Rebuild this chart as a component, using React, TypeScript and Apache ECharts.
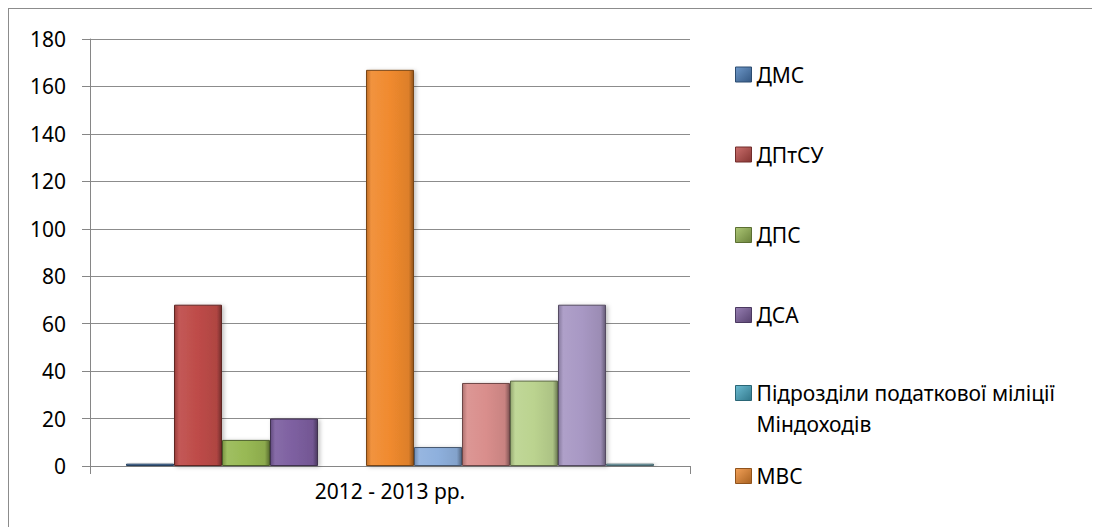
import React, { useEffect, useRef } from "react";
import * as echarts from "echarts";

const categories = ["2012 - 2013 рр."];
const seriesNames = [
  "ДМС",
  "ДПтСУ",
  "ДПС",
  "ДСА",
  "Підрозділи податкової міліції Міндоходів",
  "МВС",
  "Ряд 7",
  "Ряд 8",
  "Ряд 9",
  "Ряд 10",
  "Ряд 11",
];
const seriesValues = [1, 68, 11, 20, 0, 167, 8, 35, 36, 68, 1];
const seriesColors = [
  "#4A7EBB",
  "#BE4B48",
  "#98B954",
  "#7D5FA0",
  "#46AAC5",
  "#F08A2E",
  "#8EB0DD",
  "#D98E8C",
  "#BBD38F",
  "#A898C4",
  "#8ECBDB",
];
const legendNames = seriesNames.slice(0, 6);
const yTicks = { min: 0, max: 180, interval: 20 };

function shade(hex: string, f: number): string {
  const n = parseInt(hex.slice(1), 16);
  let r = (n >> 16) & 255, g = (n >> 8) & 255, b = n & 255;
  if (f < 0) {
    r = Math.round(r * (1 + f)); g = Math.round(g * (1 + f)); b = Math.round(b * (1 + f));
  } else {
    r = Math.round(r + (255 - r) * f); g = Math.round(g + (255 - g) * f); b = Math.round(b + (255 - b) * f);
  }
  return "rgb(" + r + "," + g + "," + b + ")";
}

const FONT = "'Noto Sans', sans-serif";
const FS = 21;

export default function App() {
  const ref = useRef<HTMLDivElement>(null);
  useEffect(() => {
    if (!ref.current) return;
    const chart = echarts.init(ref.current, undefined, { renderer: "svg" });
    const legendTops = [55, 135, 215.5, 295.5, 337.5, 456.5];
    const legends = legendNames.map((name, i) => {
      const multi = i === 4;
      const c = seriesColors[i];
      return {
        show: true,
        left: 726,
        top: legendTops[i],
        padding: 0,
        itemWidth: 16,
        itemHeight: 15,
        itemGap: 0,
        icon: "rect",
        selectedMode: false,
        formatter: multi ? () => "\nПідрозділи податкової міліції\nМіндоходів" : undefined,
        textStyle: {
          fontFamily: FONT,
          fontSize: FS,
          color: "#000",
          lineHeight: multi ? 31 : 15,
        },
        data: [
          {
            name,
            icon: "rect",
            itemStyle: {
              color: new echarts.graphic.LinearGradient(0, 0, 1, 1, [
                { offset: 0, color: shade(c, 0.2) },
                { offset: 1, color: shade(c, -0.3) },
              ]),
              borderWidth: 1,
              borderColor: shade(c, -0.4),
            },
          },
        ],
      };
    });
    chart.setOption({
      animation: false,
      backgroundColor: "#fff",
      legend: legends,
      grid: { left: 81, top: 30, width: 600, height: 427, containLabel: false },
      xAxis: {
        type: "category",
        data: categories,
        axisLine: { show: true, lineStyle: { color: "#868686", width: 1 } },
        axisTick: { show: true, length: 8, alignWithLabel: false, lineStyle: { color: "#868686" } },
        axisLabel: { fontFamily: FONT, fontSize: FS, color: "#000", margin: 14 },
      },
      yAxis: {
        type: "value",
        min: yTicks.min,
        max: yTicks.max,
        interval: yTicks.interval,
        axisLine: { show: true, lineStyle: { color: "#868686", width: 1 } },
        axisTick: { show: true, length: 8, lineStyle: { color: "#868686" } },
        axisLabel: { fontFamily: FONT, fontSize: FS, color: "#000", margin: 24 },
        splitLine: { show: true, lineStyle: { color: "#8C8C8C", width: 1 } },
      },
      series: seriesNames.map((name, i) => {
        const c = seriesColors[i];
        return {
          type: "bar",
          name,
          data: [seriesValues[i]],
          barGap: "0%",
          barCategoryGap: "12%",
          itemStyle: {
            color: new echarts.graphic.LinearGradient(0, 0, 1, 0, [
              { offset: 0, color: shade(c, -0.2) },
              { offset: 0.1, color: shade(c, 0.08) },
              { offset: 0.5, color: c },
              { offset: 0.9, color: shade(c, -0.08) },
              { offset: 1, color: shade(c, -0.4) },
            ]),
            borderColor: shade(c, -0.5),
            borderWidth: 1,
            shadowBlur: 4,
            shadowOffsetX: 2,
            shadowOffsetY: 1,
            shadowColor: "rgba(0,0,0,0.25)",
          },
        };
      }),
    });
    return () => chart.dispose();
  }, []);
  return (
    <div
      style={{
        width: 1092,
        height: 519,
        boxSizing: "border-box",
        borderTop: "1px solid #8C8C8C",
        borderLeft: "1px solid #8C8C8C",
        background: "#fff",
      }}
    >
      <div ref={ref} style={{ width: 1091, height: 518 }} />
    </div>
  );
}
